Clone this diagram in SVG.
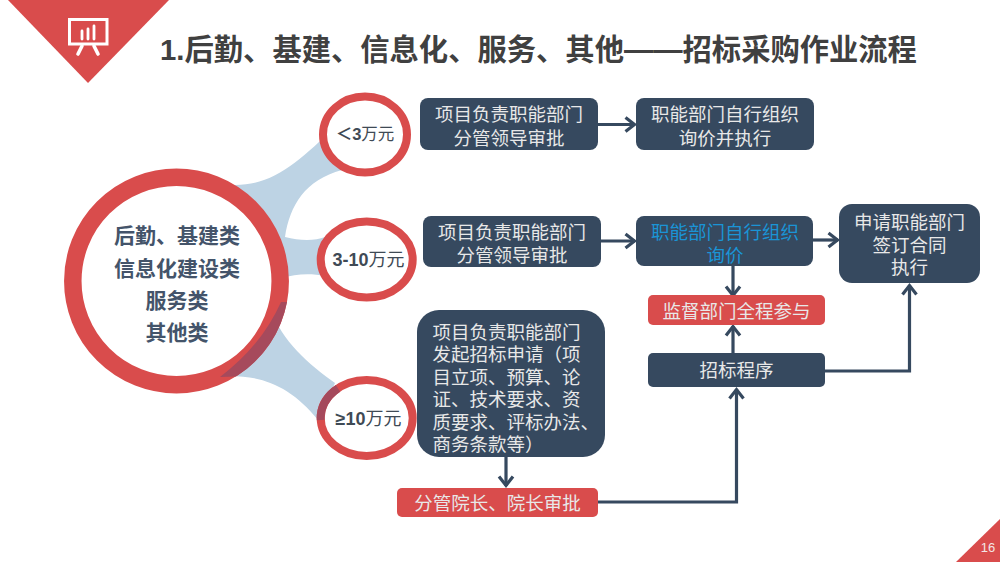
<svg xmlns="http://www.w3.org/2000/svg" width="1000" height="562" viewBox="0 0 1000 562">
<defs>
<marker id="a" markerUnits="userSpaceOnUse" markerWidth="16" markerHeight="18" refX="12.5" refY="9" orient="auto"><path d="M3 2L12 9L3 16" fill="none" stroke="#36495f" stroke-width="3.2"/></marker>
</defs>
<style>
text{font-family:"Liberation Sans","Noto Sans CJK SC",sans-serif;text-anchor:middle}
.b{fill:#36495f}.r{fill:#d94c4c}
.w{fill:#e8e8e8;font-size:18.500px}
.c{fill:#3f4a55;font-size:18px;font-weight:700}
.k{fill:#44546a;font-size:21px;font-weight:700}
.e{fill:#fff;stroke:#d94c4c;stroke-width:8}
.l{fill:none;stroke:#36495f;stroke-width:3.2;marker-end:url(#a)}
.s{text-anchor:start}
</style>
<g id="banner">
<path class="r" d="M8 0H169L88 83Z"/>
<g fill="none" stroke="#fff" stroke-linecap="round">
<rect x="69.500" y="19.500" width="37.500" height="24.500" stroke-width="3"/>
<path d="M82 31V39M88 29V39M94 26V39" stroke-width="2.800"/>
<path d="M82 46L78 54M94 46L98 54" stroke-width="3.600"/>
</g>
</g>
<text id="title" x="538.500" y="60" fill="#404040" style="font-size:29.300px;font-weight:700">1.后勤、基建、信息化、服务、其他——招标采购作业流程</text>
<g id="spokes" fill="#bdd3e4">
<path d="M235 185C275 185 300 160 335 127L342 170C305 180 290 205 285 237C300 241 315 241 325 237L325 276C310 273 295 274 282 278L272 310C280 340 310 365 335 383L318 420C290 385 260 375 225 376L195 300Z"/>
</g>
<g id="n0">
<circle cx="176.500" cy="281" r="103.700" fill="#fff" stroke="#d94c4c" stroke-width="17.500"/>
<path d="M281 302Q262 345 220 377L236 376.500A112.500 112.500 0 0 0 287 302Z" fill="#a64a5c"/>
<text class="k" x="177" y="243">后勤、基建类</text>
<text class="k" x="177" y="276">信息化建设类</text>
<text class="k" x="177" y="308">服务类</text>
<text class="k" x="177" y="340">其他类</text>
</g>
<g id="n1"><ellipse class="e" cx="365" cy="134.500" rx="42" ry="38"/><text class="c" x="365" y="140" style="font-size:16.500px">＜3<tspan font-weight="400">万元</tspan></text></g>
<g id="n2"><ellipse class="e" cx="366.700" cy="259.500" rx="46" ry="38"/><text class="c" x="368.500" y="266">3-10<tspan font-weight="400">万元</tspan></text></g>
<g id="n3"><ellipse class="e" cx="366.700" cy="418" rx="46" ry="38"/><path d="M320.700 420A46 38 0 0 1 338 388.300" fill="none" stroke="#a5495c" stroke-width="8"/><text class="c" x="368.500" y="425">≥10<tspan font-weight="400">万元</tspan></text></g>
<g id="connectors">
<path class="l" d="M598 124.500H635"/>
<path class="l" d="M601 241H635"/>
<path class="l" d="M813 240H838"/>
<path class="l" d="M733 266V296"/>
<path class="l" d="M733 353V326"/>
<path class="l" d="M506 457V486"/>
<path class="l" d="M598 502H736.500V389"/>
<path class="l" d="M825 371H909.500V285"/>
</g>
<g id="n4"><rect class="b" x="420" y="98" width="178" height="52" rx="8"/><text class="w" x="509" y="121">项目负责职能部门</text><text class="w" x="509" y="145">分管领导审批</text></g>
<g id="n5"><rect class="b" x="636" y="98" width="178" height="52" rx="8"/><text class="w" x="725" y="121">职能部门自行组织</text><text class="w" x="725" y="145">询价并执行</text></g>
<g id="n6"><rect class="b" x="423" y="216" width="178" height="51" rx="8"/><text class="w" x="512" y="239">项目负责职能部门</text><text class="w" x="512" y="262">分管领导审批</text></g>
<g id="n7"><rect class="b" x="636" y="216" width="177" height="50" rx="8"/><text class="w" x="725" y="239" style="fill:#1a94d6">职能部门自行组织</text><text class="w" x="725" y="262" style="fill:#1a94d6">询价</text></g>
<g id="n8"><rect class="b" x="839" y="204" width="141" height="79" rx="13"/><text class="w" x="909.500" y="229">申请职能部门</text><text class="w" x="909.500" y="252">签订合同</text><text class="w" x="909.500" y="274">执行</text></g>
<g id="n9"><rect class="r" x="648" y="295" width="177" height="30" rx="5"/><text class="w" x="736.500" y="318">监督部门全程参与</text></g>
<g id="n10"><rect class="b" x="648" y="353" width="177" height="34" rx="5"/><text class="w" x="736.500" y="377">招标程序</text></g>
<g id="n11"><rect class="b" x="417" y="310" width="188" height="147" rx="22"/>
<text class="w s" x="432.500" y="339">项目负责职能部门</text><text class="w s" x="432.500" y="361">发起招标申请（项</text><text class="w s" x="432.500" y="384">目立项、预算、论</text><text class="w s" x="432.500" y="406">证、技术要求、资</text><text class="w s" x="432.500" y="429">质要求、评标办法、</text><text class="w s" x="432.500" y="451">商务条款等）</text></g>
<g id="n12"><rect class="r" x="397" y="488" width="201" height="29" rx="5"/><text class="w" x="497.500" y="510">分管院长、院长审批</text></g>
<g id="page"><path class="r" d="M1000 519V562H956Z"/><text x="988" y="552" fill="#f3e6e6" style="font-size:13px">16</text></g>
</svg>
